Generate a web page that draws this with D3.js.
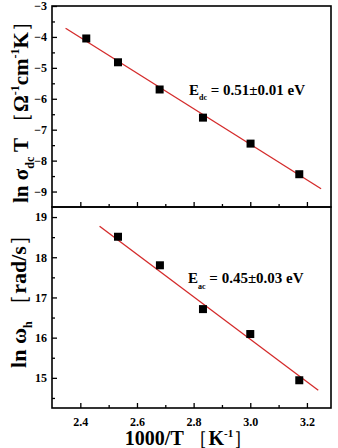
<!DOCTYPE html>
<html>
<head>
<meta charset="utf-8">
<script src="https://cdn.jsdelivr.net/npm/d3@7"></script>
<style>
body{margin:0;background:#fff;}
svg text{font-family:"Liberation Serif","Times New Roman",serif;font-weight:bold;fill:#000;}
</style>
</head>
<body>
<script>
// tick values
var xTicks=[2.4,2.6,2.8,3.0,3.2];
var xMinor=[2.5,2.7,2.9,3.1];
var dcTicks=[-9,-8,-7,-6,-5,-4,-3];
var dcMinor=[-8.5,-7.5,-6.5,-5.5,-4.5,-3.5];
var acTicks=[15,16,17,18,19];
var acMinor=[14.5,15.5,16.5,17.5,18.5];

// measured points, 1000/T vs ln(sigma_dc T)
var dcX=[2.421,2.533,2.680,2.833,3.001,3.173];
var dcY=[-4.05,-4.82,-5.70,-6.61,-7.45,-8.44];
// 1000/T vs ln(omega_h)
var acX=[2.533,2.681,2.833,3.000,3.173];
var acY=[18.51,17.80,16.71,16.09,14.94];

// fitted lines (end points)
var dcFitX=[2.348,3.250];
var dcFitY=[-3.72,-8.91];
var acFitX=[2.468,3.240];
var acFitY=[18.77,14.69];

var width=338, height=448;
var plotL=52, plotR=331, plotT=6, plotM=207, plotB=408;

var svg=d3.select('body')
  .append('svg')
  .attr('width',width)
  .attr('height',height);

svg.append('rect')
  .attr('width',width)
  .attr('height',height)
  .style('fill','#fff');

var xScale=d3.scaleLinear()
  .domain([2.3,3.285])
  .range([plotL,plotR]);

var yDc=d3.scaleLinear()
  .domain([-9.5,-3])
  .range([plotM,plotT]);

var yAc=d3.scaleLinear()
  .domain([14.25,19.25])
  .range([plotB,plotM]);

function styleAxis(g){
  g.select('.domain').remove();
  g.selectAll('line').style('stroke','#000').style('stroke-width',1.3);
  g.selectAll('text')
    .style('font-size','12px')
    .style('font-family','"Liberation Serif",serif')
    .style('font-weight','bold');
}

// y axes
svg.append('g')
  .attr('transform','translate('+plotL+',0)')
  .call(d3.axisLeft(yDc).tickValues(dcTicks).tickSize(-5).tickPadding(5).tickFormat(d3.format('d')))
  .call(styleAxis);
svg.append('g')
  .attr('transform','translate('+plotL+',0)')
  .call(d3.axisLeft(yDc).tickValues(dcMinor).tickSize(-3).tickFormat(''))
  .call(styleAxis);
svg.append('g')
  .attr('transform','translate('+plotL+',0)')
  .call(d3.axisLeft(yAc).tickValues(acTicks).tickSize(-5).tickPadding(5).tickFormat(d3.format('d')))
  .call(styleAxis);
svg.append('g')
  .attr('transform','translate('+plotL+',0)')
  .call(d3.axisLeft(yAc).tickValues(acMinor).tickSize(-3).tickFormat(''))
  .call(styleAxis);

// x axes (top panel: ticks only, bottom panel: labels)
svg.append('g')
  .attr('transform','translate(0,'+plotM+')')
  .call(d3.axisBottom(xScale).tickValues(xTicks).tickSize(-5).tickFormat(''))
  .call(styleAxis);
svg.append('g')
  .attr('transform','translate(0,'+plotM+')')
  .call(d3.axisBottom(xScale).tickValues(xMinor).tickSize(-3).tickFormat(''))
  .call(styleAxis);
svg.append('g')
  .attr('transform','translate(0,'+plotB+')')
  .call(d3.axisBottom(xScale).tickValues(xTicks).tickSize(-5).tickPadding(9).tickFormat(d3.format('.1f')))
  .call(styleAxis);
svg.append('g')
  .attr('transform','translate(0,'+plotB+')')
  .call(d3.axisBottom(xScale).tickValues(xMinor).tickSize(-3).tickFormat(''))
  .call(styleAxis);

// frames
[[plotT,plotM],[plotM,plotB]].forEach(function(p){
  svg.append('rect')
    .attr('x',plotL)
    .attr('y',p[0])
    .attr('width',plotR-plotL)
    .attr('height',p[1]-p[0])
    .style('fill','none')
    .style('stroke','#000')
    .style('stroke-width',1.6);
});

var line=d3.line();

svg.append('path')
  .attr('d',line(dcFitX.map(function(d,i){return [xScale(d),yDc(dcFitY[i])];})))
  .style('stroke','#d42a2a')
  .style('stroke-width',1.3)
  .style('fill','none');

svg.append('path')
  .attr('d',line(acFitX.map(function(d,i){return [xScale(d),yAc(acFitY[i])];})))
  .style('stroke','#d42a2a')
  .style('stroke-width',1.3)
  .style('fill','none');

var sq=8;
svg.selectAll('rect.dc')
  .data(dcX)
  .enter()
  .append('rect')
  .attr('class','dc')
  .attr('x',function(d){return xScale(d)-sq/2;})
  .attr('y',function(d,i){return yDc(dcY[i])-sq/2;})
  .attr('width',sq)
  .attr('height',sq)
  .style('fill','#000');

svg.selectAll('rect.ac')
  .data(acX)
  .enter()
  .append('rect')
  .attr('class','ac')
  .attr('x',function(d){return xScale(d)-sq/2;})
  .attr('y',function(d,i){return yAc(acY[i])-sq/2;})
  .attr('width',sq)
  .attr('height',sq)
  .style('fill','#000');

// annotations
function energy(x,y,sub,val){
  var t=svg.append('text')
    .attr('x',x)
    .attr('y',y)
    .style('font-size','15px');
  t.append('tspan').text('E');
  t.append('tspan').text(sub).style('font-size','8px').attr('dy',5.5);
  t.append('tspan').text(' = '+val+' eV').attr('dy',-5.5);
}
energy(189,94.5,'dc','0.51±0.01');
energy(188,283,'ac','0.45±0.03');

// axis titles
var t1=svg.append('text')
  .attr('transform','translate(28,107) rotate(-90)')
  .attr('text-anchor','middle')
  .style('font-size','21px');
t1.append('tspan').text('ln σ');
t1.append('tspan').text('dc').style('font-size','12px').attr('dy',6);
t1.append('tspan').text(' T ').attr('dy',-6);
t1.append('tspan').text('［').style('font-weight','normal');
t1.append('tspan').text('Ω');
t1.append('tspan').text('-1').style('font-size','12px').attr('dy',-9);
t1.append('tspan').text('cm').attr('dy',9);
t1.append('tspan').text('-1').style('font-size','12px').attr('dy',-9);
t1.append('tspan').text('K').attr('dy',9);
t1.append('tspan').text('］').style('font-weight','normal');

var t2=svg.append('text')
  .attr('transform','translate(26,296) rotate(-90)')
  .attr('text-anchor','middle')
  .style('font-size','22px');
t2.append('tspan').text('ln ω');
t2.append('tspan').text('h').style('font-size','12px').attr('dy',6);
t2.append('tspan').text(' ').attr('dy',-6);
t2.append('tspan').text('［').style('font-weight','normal');
t2.append('tspan').text('rad/s');
t2.append('tspan').text('］').style('font-weight','normal');

var t3=svg.append('text')
  .attr('x',189)
  .attr('y',445)
  .attr('text-anchor','middle')
  .style('font-size','20px');
t3.append('tspan').text('1000/T ');
t3.append('tspan').text('［').style('font-weight','normal');
t3.append('tspan').text('K');
t3.append('tspan').text('-1').style('font-size','11px').attr('dy',-8);
t3.append('tspan').text('］').style('font-weight','normal').attr('dy',8);
</script>
</body>
</html>
